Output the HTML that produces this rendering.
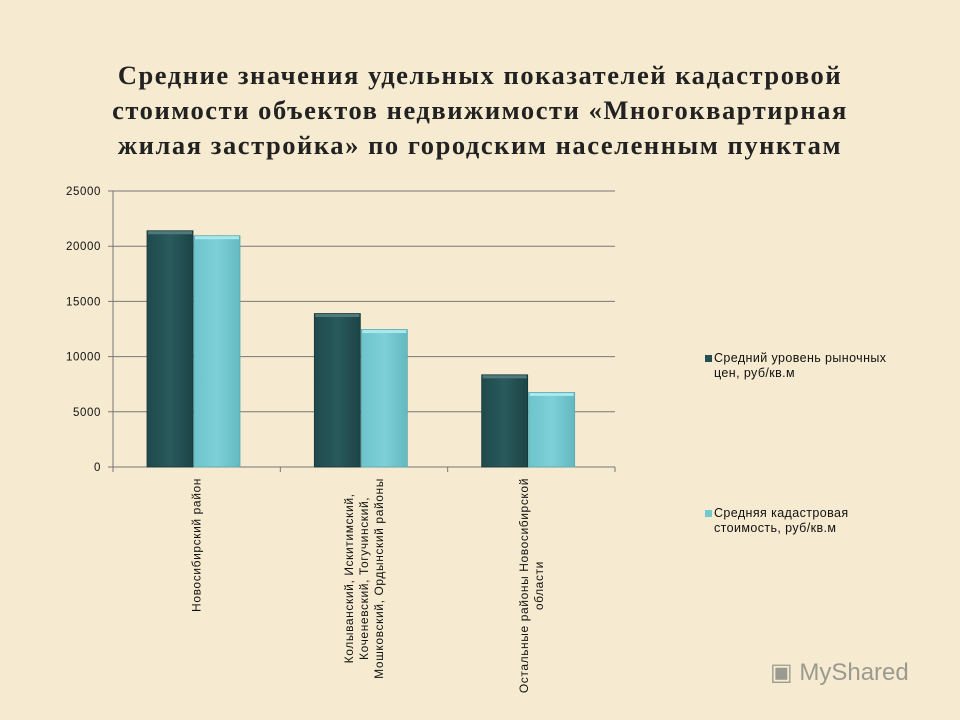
<!DOCTYPE html>
<html><head><meta charset="utf-8"><style>
html,body{margin:0;padding:0;}
body{width:960px;height:720px;background:#f6ebd0;overflow:hidden;position:relative;font-family:"Liberation Sans",sans-serif;}
.title{position:absolute;left:0;top:58px;width:960px;text-align:center;font-family:"Liberation Serif",serif;font-weight:bold;font-size:26.5px;letter-spacing:1.55px;line-height:35px;color:#222;}
.wm{position:absolute;left:770px;top:658px;font-size:24px;color:#9a9a90;font-family:"Liberation Sans",sans-serif;}
.lg{position:absolute;left:705px;font-size:12.5px;letter-spacing:0.4px;line-height:15px;color:#111;}
</style></head><body>
<div class="title">Средние значения удельных показателей кадастровой<br>стоимости объектов недвижимости «Многоквартирная<br>жилая застройка» по городским населенным пунктам</div>
<svg id="chart" width="960" height="720" style="position:absolute;left:0;top:0">
<defs>
<linearGradient id="gd" x1="0" x2="1"><stop offset="0" stop-color="#1f4a4c"/><stop offset="0.5" stop-color="#2a5a5c"/><stop offset="1" stop-color="#1c4446"/></linearGradient>
<linearGradient id="gl" x1="0" x2="1"><stop offset="0" stop-color="#6ec4cc"/><stop offset="0.5" stop-color="#7dd0d6"/><stop offset="1" stop-color="#64b8c0"/></linearGradient>
</defs>
<g id="grid"></g><g id="bars"></g><g id="labels"></g>
</svg>
<div class="wm">▣ MyShared</div>
<div>
<div class="lg" style="top:351px;"><span style="display:inline-block;width:7px;height:7px;background:#264f51;margin-right:2px"></span>Средний уровень рыночных<br><span style="padding-left:9px">цен, руб/кв.м</span></div>
<div class="lg" style="top:506px;"><span style="display:inline-block;width:7px;height:7px;background:#74c9cf;margin-right:2px"></span>Средняя кадастровая<br><span style="padding-left:9px">стоимость, руб/кв.м</span></div>
</div>
<script>
const categories=[["Новосибирский район"],["Колыванский, Искитимский,","Коченевский, Тогучинский,","Мошковский, Ордынский районы"],["Остальные районы Новосибирской","области"]];
const marketValues=[21400,13900,8350];
const cadastralValues=[20950,12450,6750];
const yTicks=[0,5000,10000,15000,20000,25000];
const NS="http://www.w3.org/2000/svg";
const x0=113,x1=615,yb=467,yt=191,ymax=25000;
const y=v=>yb-(v/ymax)*(yb-yt);
const bw=(x1-x0)/categories.length;
function mk(t,a,p){const e=document.createElementNS(NS,t);for(const k in a)e.setAttribute(k,a[k]);p.appendChild(e);return e;}
const grid=document.getElementById('grid'),bars=document.getElementById('bars'),labels=document.getElementById('labels');
yTicks.forEach(v=>{
 const l=mk('line',{x1:x0-5,x2:x1,y1:y(v),y2:y(v),stroke:'#777','stroke-width':1},grid);
 
 
 const t=mk('text',{x:x0-12,y:y(v)+4,'text-anchor':'end','font-size':11.5,'letter-spacing':0.6,fill:'#111'},grid);
 t.textContent=v;
 
 
});
const ax=mk('line',{x1:x0,x2:x0,y1:yt,y2:yb,stroke:'#777'},grid);


for(let i=0;i<=categories.length;i++){const tk=mk('line',{x1:x0+i*bw,x2:x0+i*bw,y1:yb,y2:yb+5,stroke:'#777'},grid);
 
 }
categories.forEach((c,i)=>{
 const cx=x0+i*bw;
 [[marketValues[i],'url(#gd)','#153638',34],[cadastralValues[i],'url(#gl)','#5aaab2',81]].forEach((s,j)=>{
  const r=mk('rect',{x:cx+s[3],y:y(s[0]),width:46,height:yb-y(s[0]),fill:s[1],stroke:s[2],'stroke-width':0.8},bars);
  
  
  const h=mk('rect',{x:cx+s[3]+1,y:y(s[0])+0.5,width:44,height:3,fill:j?'#a8e8ee':'#4f7a7c'},bars);
  
  
 });
 const n=c.length,mid=cx+bw/2+4;
 const ts=c.map((s,k)=>{
  const t=mk('text',{x:0,y:0,'text-anchor':'middle','font-size':12,'letter-spacing':0.6,fill:'#111'},labels);
  t.textContent=s;
  
  
  return t;});
 const len=Math.max(...ts.map(t=>t.getComputedTextLength()));
 const cyy=yb+11+len/2;
 ts.forEach((t,k)=>{const xx=mid+(k-(n-1)/2)*15;t.setAttribute('transform',`translate(${xx},${cyy}) rotate(-90)`);});
});
</script>
</body></html>
